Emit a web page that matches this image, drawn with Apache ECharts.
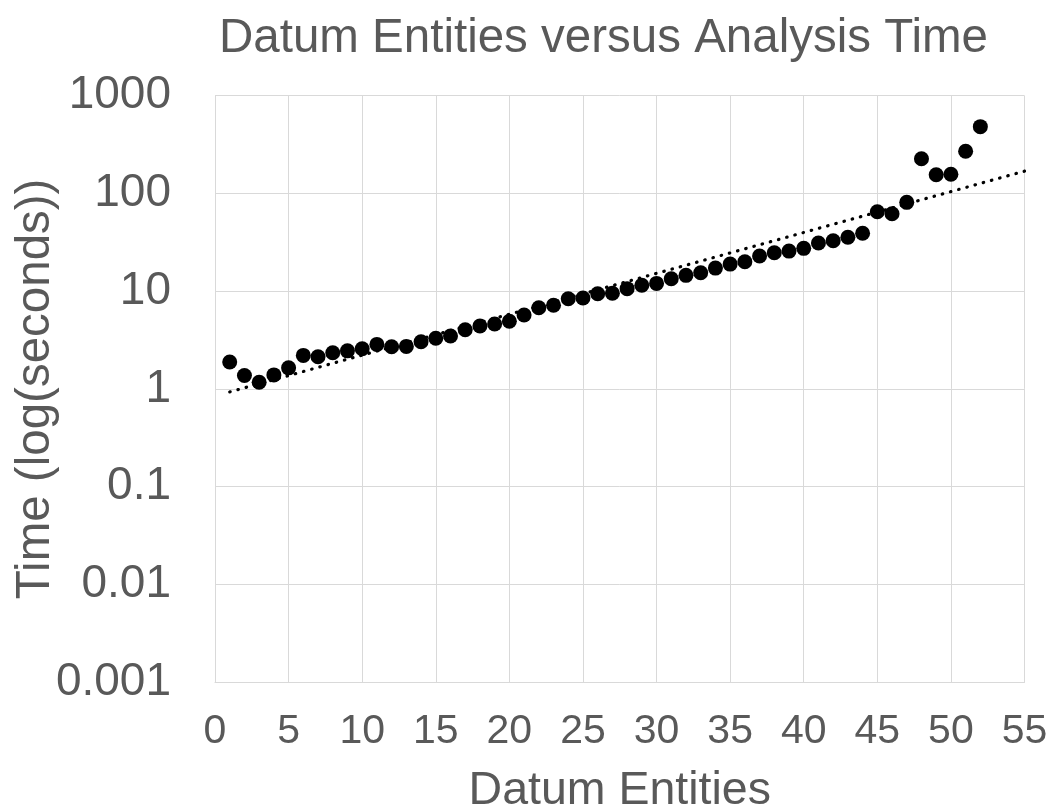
<!DOCTYPE html>
<html>
<head>
<meta charset="utf-8">
<script src="https://cdn.jsdelivr.net/npm/echarts@6/dist/echarts.min.js"></script>
<style>
html,body{margin:0;padding:0;background:#fff;}
#chart{width:1055px;height:812px;}
</style>
</head>
<body>
<div id="chart"></div>
<script>
const chartTitle = 'Datum Entities versus Analysis Time';
const xAxisTitle = 'Datum Entities';
const yAxisTitle = 'Time (log(seconds))';
const entities = [1,2,3,4,5,6,7,8,9,10,11,12,13,14,15,16,17,18,19,20,21,22,23,24,25,26,27,28,29,30,31,32,33,34,35,36,37,38,39,40,41,42,43,44,45,46,47,48,49,50,51,52];
const times = [1.88,1.37,1.17,1.39,1.64,2.2,2.13,2.34,2.45,2.57,
               2.85,2.70,2.72,3.03,3.29,3.47,4.03,4.39,4.61,4.92,
               5.69,6.76,7.16,8.36,8.5,9.4,9.5,10.6,11.5,12.0,
               13.4,14.5,15.4,17.2,18.9,20.0,22.9,24.7,25.7,27.4,
               31.1,32.8,35.6,39.1,65,62,81,226,155,157,270,482];
const trendX = [1, 55];
const trendY = [0.93, 169];
const xTicks = [0,5,10,15,20,25,30,35,40,45,50,55];
const yTicks = [0.001,0.01,0.1,1,10,100,1000];

const FONT = '"Liberation Sans", Arial, sans-serif';
const GRAY = '#595959';
const GRID = '#d9d9d9';

const chart = echarts.init(document.getElementById('chart'), null, {renderer:'canvas'});
chart.setOption({
  animation: false,
  backgroundColor: '#fff',
  title: {
    text: chartTitle,
    left: 214, top: 10,
    textStyle: {fontFamily: FONT, fontSize: 47.5, fontWeight: 'normal', color: GRAY}
  },
  grid: {left: 215, right: 30.5, top: 95.7, bottom: 130, containLabel: false, outerBoundsMode: 'none'},
  xAxis: {
    type: 'value',
    min: xTicks[0], max: xTicks[xTicks.length-1], interval: 5,
    name: xAxisTitle, nameLocation: 'middle', nameGap: 86, nameMoveOverlap: false,
    nameTextStyle: {fontFamily: FONT, fontSize: 46.5, color: GRAY},
    axisLine: {show: true, lineStyle: {color: GRID, width: 1}},
    axisTick: {show: false},
    axisLabel: {fontFamily: FONT, fontSize: 41, color: GRAY, margin: 29,
      formatter: v => xTicks.includes(v) ? String(v) : ''},
    splitLine: {show: true, lineStyle: {color: GRID, width: 1}}
  },
  yAxis: {
    type: 'log', logBase: 10,
    min: yTicks[0], max: yTicks[yTicks.length-1],
    name: yAxisTitle, nameLocation: 'middle', nameGap: 155, nameMoveOverlap: false,
    nameTextStyle: {fontFamily: FONT, fontSize: 47.5, color: GRAY},
    axisLine: {show: true, lineStyle: {color: GRID, width: 1}},
    axisTick: {show: false},
    minorTick: {show: false},
    axisLabel: {fontFamily: FONT, fontSize: 46, color: GRAY, margin: 44,
      formatter: v => String(+Number(v).toPrecision(1))},
    splitLine: {show: true, lineStyle: {color: GRID, width: 1}}
  },
  series: [
    {
      type: 'line',
      data: trendX.map((x, i) => [x, trendY[i]]),
      symbol: 'none',
      lineStyle: {color: '#000', width: 3.2, type: [0.5, 8], cap: 'round'},
      z: 1,
      silent: true
    },
    {
      type: 'scatter',
      data: entities.map((x, i) => [x, times[i]]),
      symbol: 'circle',
      symbolSize: 15,
      itemStyle: {color: '#000', opacity: 1},
      z: 2
    }
  ]
});
</script>
</body>
</html>
